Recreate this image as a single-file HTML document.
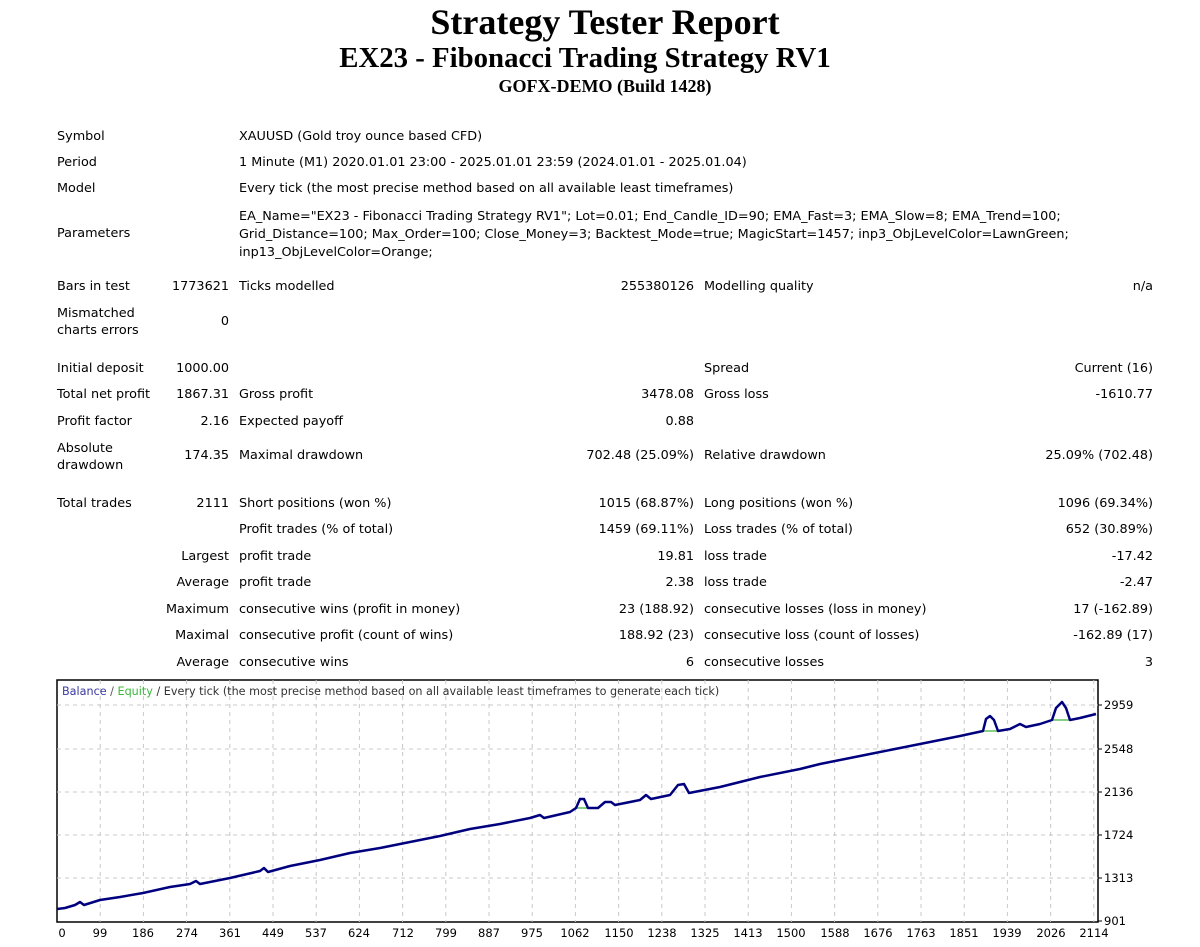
<!DOCTYPE html>
<html><head><meta charset="utf-8"><style>
body{margin:0;width:1200px;height:947px;background:#fff;position:relative;overflow:hidden;font-family:"DejaVu Sans",sans-serif;font-size:12.8px;color:#000}
.t{position:absolute;white-space:nowrap;line-height:15px}
.r{text-align:right}
.h{position:absolute;left:0;width:1210px;text-align:center;font-family:"Liberation Serif",serif;font-weight:bold;white-space:nowrap}
</style></head><body>
<div class="h" style="top:1px;font-size:36px">Strategy Tester Report</div>
<div class="h" style="top:42px;font-size:28.8px;left:-20px">EX23 - Fibonacci Trading Strategy RV1</div>
<div class="h" style="top:76px;font-size:18px">GOFX-DEMO (Build 1428)</div>

<div class="t" style="left:57px;top:129px">Symbol</div><div class="t" style="left:239px;top:129px">XAUUSD (Gold troy ounce based CFD)</div>
<div class="t" style="left:57px;top:155px">Period</div><div class="t" style="left:239px;top:155px">1 Minute (M1) 2020.01.01 23:00 - 2025.01.01 23:59 (2024.01.01 - 2025.01.04)</div>
<div class="t" style="left:57px;top:181px">Model</div><div class="t" style="left:239px;top:181px">Every tick (the most precise method based on all available least timeframes)</div>
<div class="t" style="left:57px;top:226px">Parameters</div>
<div class="t" style="left:239px;top:208px;line-height:18px">EA_Name="EX23 - Fibonacci Trading Strategy RV1"; Lot=0.01; End_Candle_ID=90; EMA_Fast=3; EMA_Slow=8; EMA_Trend=100;<br>Grid_Distance=100; Max_Order=100; Close_Money=3; Backtest_Mode=true; MagicStart=1457; inp3_ObjLevelColor=LawnGreen;<br>inp13_ObjLevelColor=Orange;</div>

<div class="t" style="left:57px;top:279px">Bars in test</div><div class="t r" style="right:971px;top:279px">1773621</div>
<div class="t" style="left:239px;top:279px">Ticks modelled</div><div class="t r" style="right:506px;top:279px">255380126</div>
<div class="t" style="left:704px;top:279px">Modelling quality</div><div class="t r" style="right:47px;top:279px">n/a</div>
<div class="t" style="left:57px;top:305px;line-height:17px">Mismatched<br>charts errors</div><div class="t r" style="right:971px;top:314px">0</div>

<div class="t" style="left:57px;top:361px">Initial deposit</div><div class="t r" style="right:971px;top:361px">1000.00</div>
<div class="t" style="left:704px;top:361px">Spread</div><div class="t r" style="right:47px;top:361px">Current (16)</div>
<div class="t" style="left:57px;top:387px">Total net profit</div><div class="t r" style="right:971px;top:387px">1867.31</div>
<div class="t" style="left:239px;top:387px">Gross profit</div><div class="t r" style="right:506px;top:387px">3478.08</div>
<div class="t" style="left:704px;top:387px">Gross loss</div><div class="t r" style="right:47px;top:387px">-1610.77</div>
<div class="t" style="left:57px;top:414px">Profit factor</div><div class="t r" style="right:971px;top:414px">2.16</div>
<div class="t" style="left:239px;top:414px">Expected payoff</div><div class="t r" style="right:506px;top:414px">0.88</div>
<div class="t" style="left:57px;top:440px;line-height:17px">Absolute<br>drawdown</div><div class="t r" style="right:971px;top:448px">174.35</div>
<div class="t" style="left:239px;top:448px">Maximal drawdown</div><div class="t r" style="right:506px;top:448px">702.48 (25.09%)</div>
<div class="t" style="left:704px;top:448px">Relative drawdown</div><div class="t r" style="right:47px;top:448px">25.09% (702.48)</div>

<div class="t" style="left:57px;top:496px">Total trades</div><div class="t r" style="right:971px;top:496px">2111</div>
<div class="t" style="left:239px;top:496px">Short positions (won %)</div><div class="t r" style="right:506px;top:496px">1015 (68.87%)</div>
<div class="t" style="left:704px;top:496px">Long positions (won %)</div><div class="t r" style="right:47px;top:496px">1096 (69.34%)</div>
<div class="t" style="left:239px;top:522px">Profit trades (% of total)</div><div class="t r" style="right:506px;top:522px">1459 (69.11%)</div>
<div class="t" style="left:704px;top:522px">Loss trades (% of total)</div><div class="t r" style="right:47px;top:522px">652 (30.89%)</div>
<div class="t r" style="right:971px;top:549px">Largest</div>
<div class="t" style="left:239px;top:549px">profit trade</div><div class="t r" style="right:506px;top:549px">19.81</div>
<div class="t" style="left:704px;top:549px">loss trade</div><div class="t r" style="right:47px;top:549px">-17.42</div>
<div class="t r" style="right:971px;top:575px">Average</div>
<div class="t" style="left:239px;top:575px">profit trade</div><div class="t r" style="right:506px;top:575px">2.38</div>
<div class="t" style="left:704px;top:575px">loss trade</div><div class="t r" style="right:47px;top:575px">-2.47</div>
<div class="t r" style="right:971px;top:602px">Maximum</div>
<div class="t" style="left:239px;top:602px">consecutive wins (profit in money)</div><div class="t r" style="right:506px;top:602px">23 (188.92)</div>
<div class="t" style="left:704px;top:602px">consecutive losses (loss in money)</div><div class="t r" style="right:47px;top:602px">17 (-162.89)</div>
<div class="t r" style="right:971px;top:628px">Maximal</div>
<div class="t" style="left:239px;top:628px">consecutive profit (count of wins)</div><div class="t r" style="right:506px;top:628px">188.92 (23)</div>
<div class="t" style="left:704px;top:628px">consecutive loss (count of losses)</div><div class="t r" style="right:47px;top:628px">-162.89 (17)</div>
<div class="t r" style="right:971px;top:655px">Average</div>
<div class="t" style="left:239px;top:655px">consecutive wins</div><div class="t r" style="right:506px;top:655px">6</div>
<div class="t" style="left:704px;top:655px">consecutive losses</div><div class="t r" style="right:47px;top:655px">3</div>

<svg style="position:absolute;left:0;top:0" width="1200" height="947" font-family="DejaVu Sans, sans-serif" font-size="11.5">
<rect x="57" y="680" width="1041" height="242" fill="#fff" stroke="#000" stroke-width="1.5"/>
<g stroke="#c8c8c8" stroke-dasharray="4,4" stroke-width="1">
<line x1="57" x2="1098" y1="705" y2="705"/><line x1="57" x2="1098" y1="749" y2="749"/><line x1="57" x2="1098" y1="792" y2="792"/><line x1="57" x2="1098" y1="835" y2="835"/><line x1="57" x2="1098" y1="878" y2="878"/>
<line x1="100.2" x2="100.2" y1="680" y2="922"/><line x1="143.4" x2="143.4" y1="680" y2="922"/><line x1="186.6" x2="186.6" y1="680" y2="922"/><line x1="229.8" x2="229.8" y1="680" y2="922"/><line x1="273" x2="273" y1="680" y2="922"/><line x1="316.2" x2="316.2" y1="680" y2="922"/><line x1="359.4" x2="359.4" y1="680" y2="922"/><line x1="402.6" x2="402.6" y1="680" y2="922"/><line x1="445.8" x2="445.8" y1="680" y2="922"/><line x1="489" x2="489" y1="680" y2="922"/><line x1="532.2" x2="532.2" y1="680" y2="922"/><line x1="575.4" x2="575.4" y1="680" y2="922"/><line x1="618.6" x2="618.6" y1="680" y2="922"/><line x1="661.8" x2="661.8" y1="680" y2="922"/><line x1="705" x2="705" y1="680" y2="922"/><line x1="748.2" x2="748.2" y1="680" y2="922"/><line x1="791.4" x2="791.4" y1="680" y2="922"/><line x1="834.6" x2="834.6" y1="680" y2="922"/><line x1="877.8" x2="877.8" y1="680" y2="922"/><line x1="921" x2="921" y1="680" y2="922"/><line x1="964.2" x2="964.2" y1="680" y2="922"/><line x1="1007.4" x2="1007.4" y1="680" y2="922"/><line x1="1050.6" x2="1050.6" y1="680" y2="922"/><line x1="1093.8" x2="1093.8" y1="680" y2="922"/>
</g>
<text x="62" y="695" font-size="11.2" fill="#3a3aa0">Balance<tspan fill="#555"> / </tspan><tspan fill="#3cb83c">Equity</tspan><tspan fill="#333"> / Every tick (the most precise method based on all available least timeframes to generate each tick)</tspan></text>
<g stroke="#5cc05c" stroke-width="1.5"><line x1="575" x2="598" y1="808" y2="808"/><line x1="983" x2="998" y1="731" y2="731"/><line x1="1052" x2="1070" y1="720" y2="720"/></g>
<polyline fill="none" stroke="#00007f" stroke-width="2.5" stroke-linejoin="round" points="57,909 65,908 75,905 80,902 84,905 100,900 120,897 143,893 170,887 190,884 196,881 200,884 230,878 260,871 264,868 268,872 290,866 320,860 350,853 380,848 410,842 440,836 470,829 500,824 530,818 540,815 544,818 570,812 576,808 580,799 584,799 588,808 598,808 605,802 611,802 615,805 640,800 646,795 651,799 670,795 678,785 684,784 689,793 720,787 760,777 800,769 820,764 850,758 870,754 900,748 930,742 960,736 983,731 986,719 990,716 994,720 998,731 1010,729 1020,724 1026,727 1040,724 1052,720 1056,708 1062,702 1066,708 1070,720 1080,718 1096,714"/>
<g stroke="#000" stroke-width="1"><line x1="1098" x2="1102" y1="705" y2="705"/><line x1="1098" x2="1102" y1="749" y2="749"/><line x1="1098" x2="1102" y1="792" y2="792"/><line x1="1098" x2="1102" y1="835" y2="835"/><line x1="1098" x2="1102" y1="878" y2="878"/><line x1="1098" x2="1102" y1="921" y2="921"/></g>
<g fill="#000"><text x="1104" y="709">2959</text><text x="1104" y="753">2548</text><text x="1104" y="796">2136</text><text x="1104" y="839">1724</text><text x="1104" y="882">1313</text><text x="1104" y="925">901</text></g>
<g fill="#000" text-anchor="middle">
<text x="62" y="937">0</text><text x="100" y="937">99</text><text x="143" y="937">186</text><text x="187" y="937">274</text><text x="230" y="937">361</text><text x="273" y="937">449</text><text x="316" y="937">537</text><text x="359" y="937">624</text><text x="403" y="937">712</text><text x="446" y="937">799</text><text x="489" y="937">887</text><text x="532" y="937">975</text><text x="575" y="937">1062</text><text x="619" y="937">1150</text><text x="662" y="937">1238</text><text x="705" y="937">1325</text><text x="748" y="937">1413</text><text x="791" y="937">1500</text><text x="835" y="937">1588</text><text x="878" y="937">1676</text><text x="921" y="937">1763</text><text x="964" y="937">1851</text><text x="1007" y="937">1939</text><text x="1051" y="937">2026</text><text x="1094" y="937">2114</text>
</g>
</svg>
</body></html>
